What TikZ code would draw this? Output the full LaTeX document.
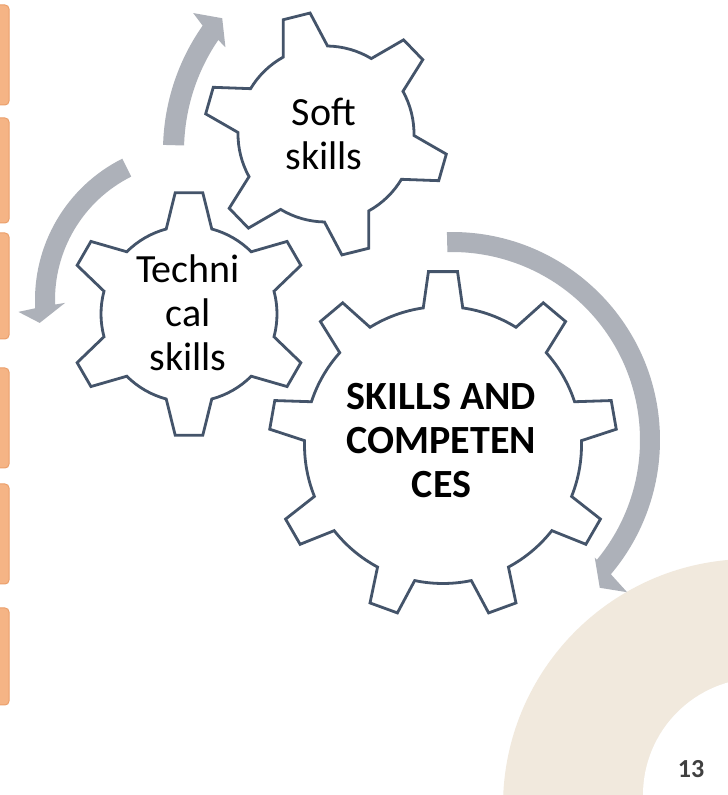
\documentclass[tikz,border=0pt]{standalone}
\usepackage{fontspec}
\setmainfont{Carlito}
\definecolor{gearblue}{HTML}{44546A}
\definecolor{arrowgray}{HTML}{ADB1B9}
\definecolor{sandfill}{HTML}{F1E9DD}
\definecolor{tabfill}{HTML}{F5B485}
\definecolor{tabedge}{HTML}{EBA06C}
\definecolor{pagenum}{HTML}{404040}

\begin{document}
\begin{tikzpicture}[x=1pt,y=1pt,
  gearline/.style={draw=gearblue,line width=2.8pt,fill=white},
  gearlabel/.style={font=\fontsize{40}{44}\selectfont,align=center,inner sep=0pt},
  mainlabel/.style={font=\fontsize{40}{44}\selectfont\bfseries,align=center,inner sep=0pt},
  cyclearrow/.style={fill=arrowgray},
  sidetab/.style={fill=tabfill,draw=tabedge,line width=1pt,rounded corners=4pt}]
\useasboundingbox (0,0) rectangle (728,795);
\clip (0,0) rectangle (728,795);
\fill[white] (0,0) rectangle (728,795);
\fill[sandfill] (750,-11) circle (247);
\fill[white] (760,0) circle (117);
\draw[sidetab] (-10,690) rectangle (9,790);
\draw[sidetab] (-10,572) rectangle (9,677);
\draw[sidetab] (-10,456) rectangle (9,562);
\draw[sidetab] (-10,327) rectangle (9,427);
\draw[sidetab] (-10,211) rectangle (9,311);
\draw[sidetab] (-10,90) rectangle (9,187);
\begin{scope}[shift={(381,644)}]
\fill[cyclearrow] (178.4:218) arc[start angle=178.4,end angle=144.9,radius=218]
  -- (143.7:233) -- (140.1:207) -- (146.3:187) -- (145.7:197)
  arc[start angle=145.7,end angle=178.4,radius=197] -- cycle;
\end{scope}
\begin{scope}[shift={(193,495)}]
\fill[cyclearrow] (116.6:158) arc[start angle=116.6,end angle=183,radius=158]
  -- (183.9:175) -- (188.5:155) -- (181.3:128) -- (181.9:138)
  arc[start angle=181.9,end angle=116.6,radius=138] -- cycle;
\end{scope}
\begin{scope}[shift={(452,355)}]
\fill[cyclearrow] (91.4:208) arc[start angle=91.4,end angle=-40.2,radius=208]
  -- (-41:232) -- (-45:209) -- (-39.5:185) -- (-39.6:188)
  arc[start angle=-39.6,end angle=91.4,radius=188] -- cycle;
\end{scope}
\begin{scope}[shift={(326,661)}]
\draw[gearline] (89:88) \foreach \t in {104,164,...,404}
  {-- ({\t-6.5}:122) -- ({\t+6.5}:122) -- ({\t+15}:88)
   arc[start angle={\t+15},end angle={\t+45},radius=88]} -- cycle;
\node[gearlabel] (soft) at (-2,0.5) {Soft\\skills};
\end{scope}
\begin{scope}[shift={(189,481)}]
\draw[gearline] (15:88) \foreach \t in {30,90,...,330}
  {-- ({\t-6.5}:122) -- ({\t+6.5}:122) -- ({\t+15}:88)
   arc[start angle={\t+15},end angle={\t+45},radius=88]} -- cycle;
\node[gearlabel] (technical) at (-1,1) {Techni\\cal\\skills};
\end{scope}
\begin{scope}[shift={(443,350)}]
\draw[gearline] (81.8:138.5) \foreach \t in {90,130,...,410}
  {-- ({\t-4.8}:174) -- ({\t+4.8}:174) -- ({\t+8.2}:138.5)
   arc[start angle={\t+8.2},end angle={\t+31.8},radius=138.5]} -- cycle;
\node[mainlabel] (skills) at (-1.5,4) {SKILLS AND\\COMPETEN\\CES};
\end{scope}
\node[font=\fontsize{26}{30}\selectfont\bfseries,text=pagenum] (pageno) at (691,26) {13};
\end{tikzpicture}
\end{document}
